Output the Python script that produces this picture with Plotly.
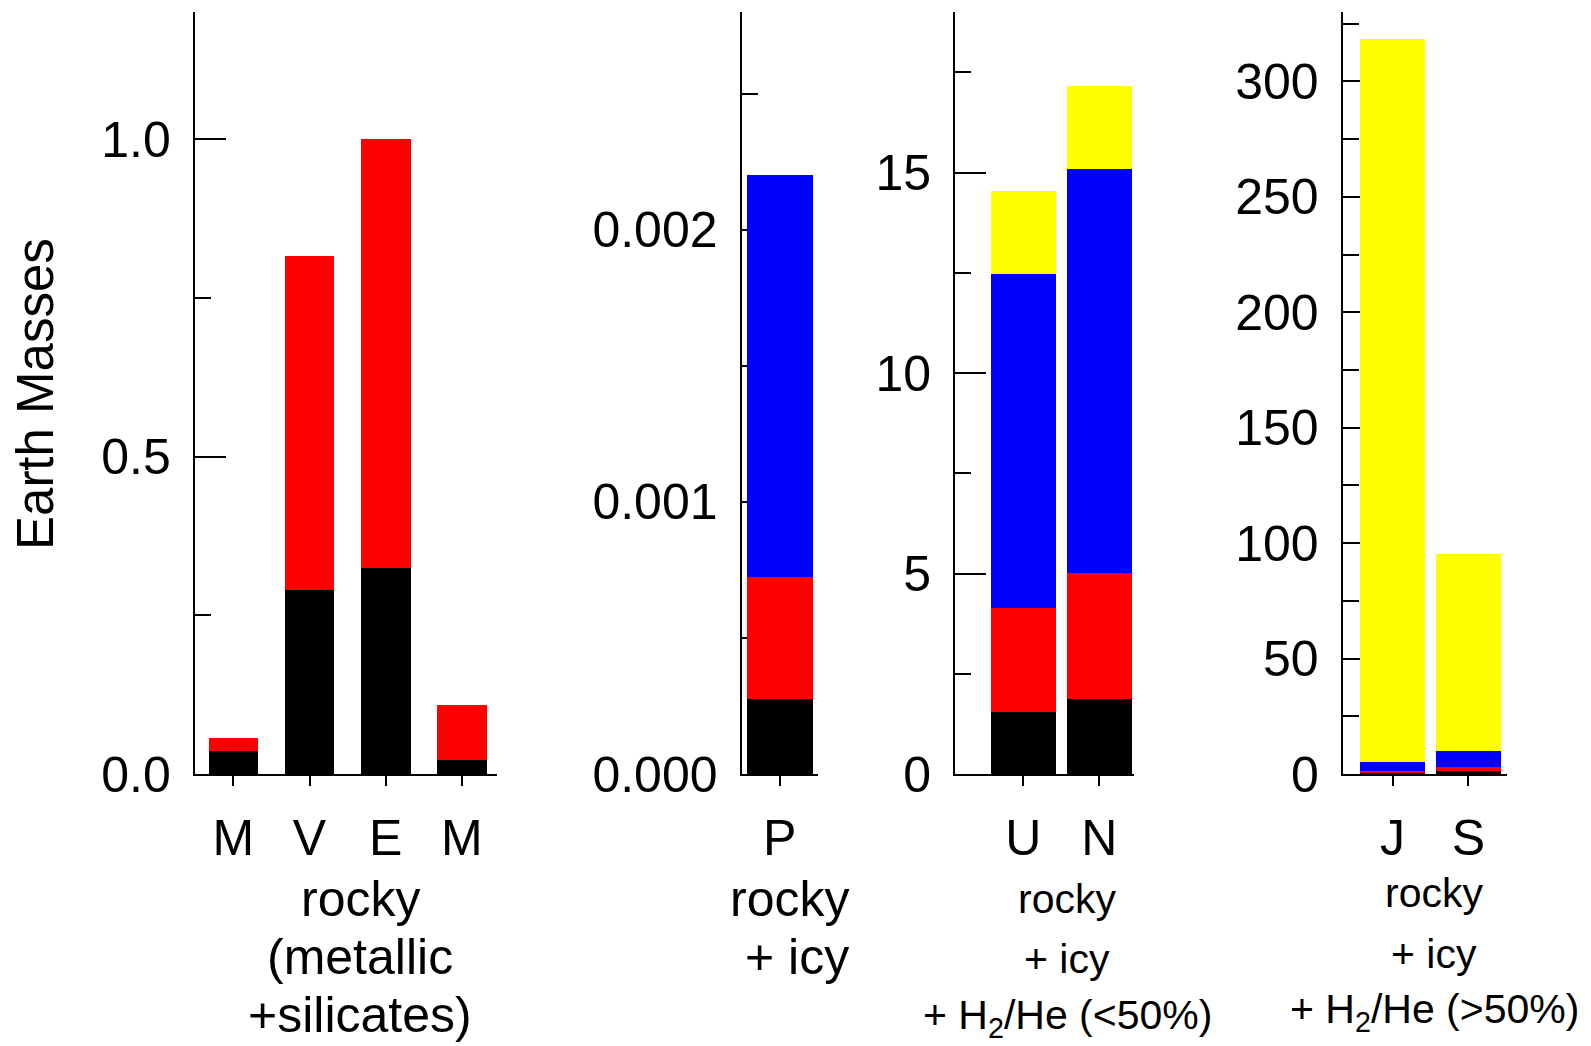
import plotly.graph_objects as go

# ---------------- data ----------------
rocky_labels = ["M", "V", "E", "M"]
rocky_metal = [0.036, 0.289, 0.324, 0.022]
rocky_silicate = [0.020, 0.526, 0.676, 0.086]

pluto_labels = ["P"]
pluto_metal = [0.000275]
pluto_silicate = [0.000450]
pluto_icy = [0.001475]

ice_labels = ["U", "N"]
ice_metal = [1.55, 1.87]
ice_silicate = [2.58, 3.13]
ice_icy = [8.34, 10.09]
ice_gas = [2.06, 2.07]

gas_labels = ["J", "S"]
gas_metal = [0.3, 1.0]
gas_silicate = [0.9, 2.1]
gas_icy = [3.7, 6.6]
gas_gas = [313.4, 85.7]

ylabel = "Earth Masses"
group_texts = {
    "rocky": ["rocky", "(metallic", "+silicates)"],
    "pluto": ["rocky", "+ icy"],
    "ice": ["rocky", "+ icy", "+ H<sub>2</sub>/He (&lt;50%)"],
    "gas": ["rocky", "+ icy", "+ H<sub>2</sub>/He (&gt;50%)"],
}

COL = {"metal": "#000000", "silicate": "#ff0000", "icy": "#0000ff", "gas": "#ffff00"}

W, H = 1591, 1046
FONT = "Liberation Sans, Arial, Helvetica, sans-serif"

fig = go.Figure()

panels = [
    (rocky_labels, [("metal", rocky_metal), ("silicate", rocky_silicate)], 0.65, ""),
    (pluto_labels, [("metal", pluto_metal), ("silicate", pluto_silicate), ("icy", pluto_icy)], 0.86, "2"),
    (ice_labels, [("metal", ice_metal), ("silicate", ice_silicate), ("icy", ice_icy), ("gas", ice_gas)], 0.855, "3"),
    (gas_labels, [("metal", gas_metal), ("silicate", gas_silicate), ("icy", gas_icy), ("gas", gas_gas)], 0.857, "4"),
]

for labels, layers, bw, sfx in panels:
    xs = list(range(len(labels)))
    for name, vals in layers:
        fig.add_trace(go.Bar(
            x=xs, y=vals, width=bw, name=name,
            marker=dict(color=COL[name], line=dict(width=0)),
            xaxis="x" + sfx, yaxis="y" + sfx, showlegend=False,
        ))

ydom = [1 - 774 / H, 1 - 12.2 / H]
xdoms = [
    [194.8 / W, 497.2 / W],
    [741.5 / W, 818.0 / W],
    [955.0 / W, 1134.4 / W],
    [1342.7 / W, 1506.9 / W],
]
xranges = [[-0.505, 3.463], [-0.5, 0.5], [-0.897, 1.463], [-0.657, 1.509]]
yranges = [[0, 1.2], [0, 0.0028], [0, 19], [0, 330]]
ydticks = [0.5, 0.001, 5, 50]
yformats = [".1f", ".3f", "d", "d"]
all_labels = [rocky_labels, pluto_labels, ice_labels, gas_labels]

layout = dict(
    width=W, height=H,
    margin=dict(l=0, r=0, t=0, b=0, pad=0, autoexpand=False),
    paper_bgcolor="white", plot_bgcolor="white",
    barmode="stack", bargap=0,
    font=dict(family=FONT, size=50, color="black"),
    showlegend=False,
)

for i in range(4):
    sfx = "" if i == 0 else str(i + 1)
    layout["xaxis" + sfx] = dict(
        domain=xdoms[i], range=xranges[i], anchor="y" + sfx,
        tickmode="array", tickvals=list(range(len(all_labels[i]))), ticktext=all_labels[i],
        ticks="outside", ticklen=10, tickwidth=2, tickcolor="black",
        showline=True, linewidth=2, linecolor="black",
        showgrid=False, zeroline=False, fixedrange=True, automargin=False,
        tickfont=dict(size=50, family=FONT), ticklabelstandoff=9,
    )
    layout["yaxis" + sfx] = dict(
        domain=ydom, range=yranges[i], anchor="x" + sfx,
        tick0=0, dtick=ydticks[i], tickformat=yformats[i],
        ticks="inside", ticklen=31, tickwidth=2, tickcolor="black",
        minor=dict(dtick=ydticks[i] / 2, ticks="inside", ticklen=16, tickwidth=2,
                   tickcolor="black", showgrid=False),
        showline=True, linewidth=2, linecolor="black",
        showgrid=False, zeroline=False, fixedrange=True, automargin=False,
        tickfont=dict(size=50, family=FONT), ticklabelstandoff=12,
        layer="below traces",
    )

fig.update_layout(**layout)

# y-axis title
fig.add_annotation(text=ylabel, xref="paper", yref="paper", x=35 / W, y=1 - 394 / H,
                   textangle=-90, showarrow=False, font=dict(size=51, family=FONT),
                   xanchor="center", yanchor="middle")

def add_lines(lines, xc, ys, size, xanchor="center"):
    for t, yc in zip(lines, ys):
        fig.add_annotation(text=t, xref="paper", yref="paper", x=xc / W, y=1 - yc / H,
                           showarrow=False, font=dict(size=size, family=FONT),
                           xanchor=xanchor, yanchor="middle")

add_lines(group_texts["rocky"], 360, [899, 957, 1015], 50)
add_lines(group_texts["pluto"], 851, [899, 957], 50, xanchor="right")
add_lines(group_texts["ice"], 1067, [899, 959, 1018], 41)
add_lines(group_texts["gas"], 1434, [893, 954, 1012], 41)

fig.write_html("out.html")
